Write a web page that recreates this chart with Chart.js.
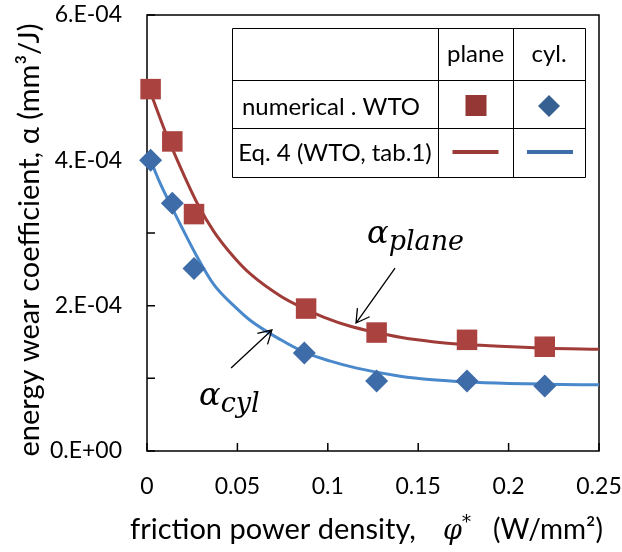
<!DOCTYPE html>
<html>
<head>
<meta charset="utf-8">
<script src="https://cdn.jsdelivr.net/npm/chart.js@4.4.1/dist/chart.umd.min.js"></script>
<style>
  html, body { margin: 0; padding: 0; background: #fff; }
  canvas { display: block; }
</style>
</head>
<body>
<canvas id="grafico" width="622" height="552"></canvas>
<script>
// ticks
const xTicks = [0, 0.05, 0.1, 0.15, 0.2, 0.25];
const yTicks = [0, 2e-4, 4e-4, 6e-4];
const yMinorTicks = [0, 1e-4, 2e-4, 3e-4, 4e-4, 5e-4, 6e-4];

// numerical WTO points
const planeX = [0.002, 0.014, 0.026, 0.088, 0.127, 0.177, 0.220];
const planeY = [4.98e-4, 4.26e-4, 3.26e-4, 1.96e-4, 1.63e-4, 1.53e-4, 1.435e-4];
const cylX = [0.002, 0.014, 0.026, 0.087, 0.127, 0.177, 0.220];
const cylY = [4.00e-4, 3.41e-4, 2.51e-4, 1.35e-4, 0.965e-4, 0.962e-4, 0.894e-4];

// Eq. 4 curves
const planeFitX = [0.002, 0.010, 0.014, 0.020, 0.028, 0.037, 0.048, 0.057, 0.074, 0.087, 0.098, 0.112, 0.127, 0.140, 0.158, 0.177, 0.195, 0.220, 0.250];
const planeFitY = [4.93e-4, 4.40e-4, 4.16e-4, 3.82e-4, 3.40e-4, 3.02e-4, 2.67e-4, 2.44e-4, 2.13e-4, 1.96e-4, 1.84e-4, 1.72e-4, 1.63e-4, 1.565e-4, 1.505e-4, 1.465e-4, 1.44e-4, 1.415e-4, 1.40e-4];
const cylFitX = [0.002, 0.007, 0.014, 0.018, 0.028, 0.037, 0.048, 0.057, 0.074, 0.087, 0.101, 0.116, 0.140, 0.158, 0.177, 0.200, 0.220, 0.250];
const cylFitY = [4.00e-4, 3.70e-4, 3.34e-4, 3.14e-4, 2.66e-4, 2.29e-4, 2.00e-4, 1.80e-4, 1.53e-4, 1.36e-4, 1.24e-4, 1.14e-4, 1.03e-4, 0.98e-4, 0.95e-4, 0.93e-4, 0.92e-4, 0.91e-4];

const fonte = 'Lato';

function pares(xs, ys) {
  return xs.map((x, i) => ({ x: x, y: ys[i] }));
}

// 6.E-04 style labels
function rotuloCientifico(v) {
  if (v === 0) return '0.E+00';
  const exp = Math.floor(Math.log10(Math.abs(v)) + 1e-9);
  const mant = Math.round(v / Math.pow(10, exp));
  return mant + '.E' + (exp < 0 ? '-' : '+') + String(Math.abs(exp)).padStart(2, '0');
}

// box + inward ticks
const molduraPlugin = {
  id: 'moldura',
  beforeDatasetsDraw(chart) {
    const { ctx, chartArea: a, scales } = chart;
    ctx.save();
    ctx.strokeStyle = '#000';
    ctx.lineWidth = 1.5;
    ctx.strokeRect(a.left, a.top, a.right - a.left, a.bottom - a.top);
    ctx.beginPath();
    yMinorTicks.forEach(v => {
      const y = scales.y.getPixelForValue(v);
      ctx.moveTo(a.left, y);
      ctx.lineTo(a.left + 8, y);
    });
    xTicks.forEach(v => {
      const x = scales.x.getPixelForValue(v);
      ctx.moveTo(x, a.bottom);
      ctx.lineTo(x, a.bottom - 8);
    });
    ctx.stroke();
    ctx.restore();
  }
};

// legend drawn as a table
const tabelaPlugin = {
  id: 'tabela',
  afterDatasetsDraw(chart) {
    const { ctx, chartArea: a } = chart;
    const L = a.left + 85, T = a.top + 13, W = 353, H = 149;
    const c1 = L + 206, c2 = L + 281;
    const r1 = T + 52, r2 = T + 100;
    ctx.save();
    ctx.fillStyle = '#fff';
    ctx.fillRect(L, T, W, H);
    ctx.strokeStyle = '#000';
    ctx.lineWidth = 1;
    ctx.beginPath();
    ctx.rect(L + 0.5, T + 0.5, W, H);
    ctx.moveTo(c1 + 0.5, T); ctx.lineTo(c1 + 0.5, T + H);
    ctx.moveTo(c2 + 0.5, T); ctx.lineTo(c2 + 0.5, T + H);
    ctx.moveTo(L, r1 + 0.5); ctx.lineTo(L + W, r1 + 0.5);
    ctx.moveTo(L, r2 + 0.5); ctx.lineTo(L + W, r2 + 0.5);
    ctx.stroke();

    ctx.fillStyle = '#000';
    ctx.font = '24px ' + fonte;
    ctx.textAlign = 'center';
    ctx.textBaseline = 'alphabetic';
    const m1 = (c1 + c2) / 2, m2 = (c2 + L + W) / 2;
    ctx.fillText('plane', m1, T + 34);
    ctx.fillText('cyl.', m2, T + 34);
    ctx.fillText('numerical . WTO', (L + c1) / 2 - 4, r1 + 35);
    ctx.fillText('Eq. 4 (WTO, tab.1)', (L + c1) / 2, r2 + 33);

    // markers
    const yM = r1 + 25;
    ctx.fillStyle = '#953735';
    ctx.fillRect(m1 - 10, yM - 10, 21, 21);
    ctx.fillStyle = '#376092';
    ctx.beginPath();
    ctx.moveTo(m2 - 11, yM + 1); ctx.lineTo(m2, yM - 10);
    ctx.lineTo(m2 + 11, yM + 1); ctx.lineTo(m2, yM + 12);
    ctx.closePath();
    ctx.fill();

    // lines
    const yL = r2 + 24;
    ctx.lineWidth = 4;
    ctx.strokeStyle = '#9B3B38';
    ctx.beginPath(); ctx.moveTo(m1 - 23, yL); ctx.lineTo(m1 + 23, yL); ctx.stroke();
    ctx.strokeStyle = '#3F6DAA';
    ctx.beginPath(); ctx.moveTo(m2 - 22, yL); ctx.lineTo(m2 + 24, yL); ctx.stroke();
    ctx.restore();
  }
};

// alpha labels with arrows (data units)
const notas = [
  { sub: 'plane', x: 0.1217, y: 2.86e-4, de: [0.1372, 2.518e-4], para: [0.1156, 1.761e-4] },
  { sub: 'cyl', x: 0.0288, y: 0.633e-4, de: [0.0465, 1.142e-4], para: [0.0691, 1.665e-4] }
];

function seta(ctx, x1, y1, x2, y2) {
  const ang = Math.atan2(y1 - y2, x1 - x2);
  const len = 15, ab = Math.PI / 6;
  ctx.beginPath();
  ctx.moveTo(x1, y1); ctx.lineTo(x2, y2);
  ctx.moveTo(x2 + len * Math.cos(ang - ab), y2 + len * Math.sin(ang - ab));
  ctx.lineTo(x2, y2);
  ctx.lineTo(x2 + len * Math.cos(ang + ab), y2 + len * Math.sin(ang + ab));
  ctx.stroke();
}

const textosPlugin = {
  id: 'textos',
  afterDraw(chart) {
    const { ctx, chartArea: a, scales } = chart;
    const sx = scales.x, sy = scales.y;
    ctx.save();
    ctx.fillStyle = '#000';
    ctx.strokeStyle = '#000';
    ctx.lineWidth = 1.3;
    ctx.textAlign = 'left';
    ctx.textBaseline = 'alphabetic';
    notas.forEach(n => {
      const px = sx.getPixelForValue(n.x), py = sy.getPixelForValue(n.y);
      ctx.font = 'italic 32px "DejaVu Serif"';
      ctx.fillText('α', px, py);
      const w = ctx.measureText('α').width;
      ctx.font = 'italic 27px "DejaVu Serif"';
      ctx.fillText(n.sub, px + w, py + 7);
      seta(ctx, sx.getPixelForValue(n.de[0]), sy.getPixelForValue(n.de[1]),
        sx.getPixelForValue(n.para[0]), sy.getPixelForValue(n.para[1]));
    });

    // y title
    ctx.save();
    ctx.translate(30, (a.top + a.bottom) / 2 + 7);
    ctx.rotate(-Math.PI / 2);
    ctx.font = '29px ' + fonte;
    ctx.textAlign = 'center';
    ctx.textBaseline = 'middle';
    ctx.fillText('energy wear coefficient, α (mm³/J)', 0, 0);
    ctx.restore();

    // x title, pieces placed from its left edge
    const x0 = a.left - 17;
    const base = a.bottom + 88;
    ctx.font = '29px ' + fonte;
    ctx.fillText('friction power density,', x0, base);
    ctx.font = 'italic 27px "DejaVu Serif"';
    ctx.fillText('φ', x0 + 313, base);
    ctx.font = '18px "DejaVu Serif"';
    ctx.fillText('*', x0 + 332, base - 11);
    ctx.font = '28px ' + fonte;
    ctx.fillText('(W/mm²)', x0 + 363, base);
    ctx.restore();
  }
};

const ctx = document.getElementById('grafico').getContext('2d');

const grafico = new Chart(ctx, {
  type: 'scatter',
  data: {
    datasets: [
      {
        label: 'numerical . WTO plane',
        data: pares(planeX, planeY),
        pointStyle: 'rect',
        pointRadius: 14.5,
        backgroundColor: '#AA433F',
        borderWidth: 0,
        clip: false,
        order: 0
      },
      {
        label: 'numerical . WTO cyl.',
        data: pares(cylX, cylY),
        pointStyle: 'rectRot',
        pointRadius: 11.5,
        backgroundColor: '#3E6CA8',
        borderWidth: 0,
        clip: false,
        order: 1
      },
      {
        type: 'line',
        label: 'Eq. 4 plane',
        data: pares(planeFitX, planeFitY),
        borderColor: '#A03C38',
        borderWidth: 3,
        pointRadius: 0,
        fill: false,
        cubicInterpolationMode: 'monotone',
        order: 2
      },
      {
        type: 'line',
        label: 'Eq. 4 cyl.',
        data: pares(cylFitX, cylFitY),
        borderColor: '#4A88CC',
        borderWidth: 3,
        pointRadius: 0,
        fill: false,
        cubicInterpolationMode: 'monotone',
        order: 3
      }
    ]
  },
  options: {
    responsive: false,
    animation: false,
    layout: { padding: { top: 15, right: 23, left: 0, bottom: 0 } },
    plugins: {
      legend: { display: false },
      tooltip: { enabled: false }
    },
    scales: {
      x: {
        type: 'linear',
        min: 0,
        max: 0.25,
        grid: { display: false, drawTicks: false },
        border: { display: false },
        afterBuildTicks: s => { s.ticks = xTicks.map(v => ({ value: v })); },
        afterFit: s => {
          s.height = 101;
          s.paddingLeft = 0; s.paddingRight = 0;
        },
        ticks: {
          padding: 22,
          color: '#000',
          font: { family: fonte, size: 23 },
          maxRotation: 0,
          callback: v => String(Number(v.toFixed(4)))
        }
      },
      y: {
        min: 0,
        max: 6e-4,
        grid: { display: false, drawTicks: false },
        border: { display: false },
        afterBuildTicks: s => { s.ticks = yTicks.map(v => ({ value: v })); },
        afterFit: s => {
          s.width = 147;
          s.paddingTop = 0; s.paddingBottom = 0;
        },
        ticks: {
          padding: 25,
          color: '#000',
          font: { family: fonte, size: 23 },
          callback: v => rotuloCientifico(v)
        }
      }
    }
  },
  plugins: [molduraPlugin, tabelaPlugin, textosPlugin]
});
</script>
</body>
</html>
